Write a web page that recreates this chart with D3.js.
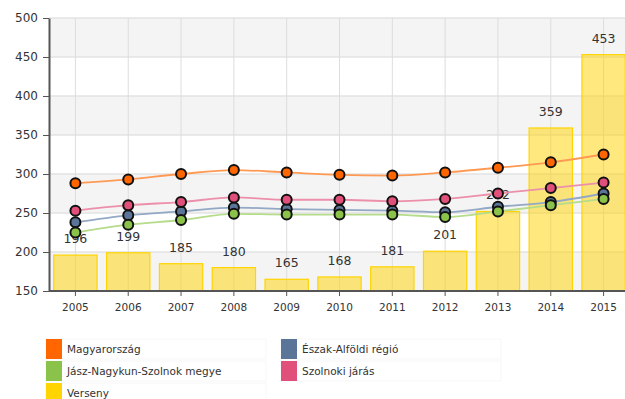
<!DOCTYPE html>
<html>
<head>
<meta charset="utf-8">
<script src="https://cdn.jsdelivr.net/npm/d3@7"></script>
<style>
  html, body { margin: 0; padding: 0; background: #fff; }
  svg { display: block; font-family: "DejaVu Sans", Verdana, sans-serif; }
</style>
</head>
<body>
<svg id="chart" width="625" height="399"></svg>
<script>
// Years on the x axis
const years = ["2005","2006","2007","2008","2009","2010","2011","2012","2013","2014","2015"];

// Bar series
const verseny = [196, 199, 185, 180, 165, 168, 181, 201, 252, 359, 453];

// Line series
const magyarorszag = [288, 293, 300, 305, 302, 299, 298, 302, 308, 315, 325];
const eszakAlfoldi = [238, 247, 252, 257, 255, 254, 253, 251, 258, 264, 275];
const jnszMegye   = [225, 235, 241, 249, 248, 248, 248, 245, 252, 260, 268];
const szolnokiJaras = [253, 260, 264, 270, 267, 267, 265, 268, 275, 282, 289];

const yTicks = [150, 200, 250, 300, 350, 400, 450, 500];

const lineSeries = [
  { name: "Magyarország", values: magyarorszag, color: "#ff6600", line: "#ff9a55" },
  { name: "Észak-Alföldi régió", values: eszakAlfoldi, color: "#5b7599", line: "#93a8c4" },
  { name: "Jász-Nagykun-Szolnok megye", values: jnszMegye, color: "#8bc34a", line: "#b5dc8a" },
  { name: "Szolnoki járás", values: szolnokiJaras, color: "#e0507a", line: "#ec8faa" }
];
const barColor = "#ffd400";

const legendItems = [
  { name: "Magyarország", color: "#ff6600", col: 0, row: 0 },
  { name: "Észak-Alföldi régió", color: "#5b7599", col: 1, row: 0 },
  { name: "Jász-Nagykun-Szolnok megye", color: "#8bc34a", col: 0, row: 1 },
  { name: "Szolnoki járás", color: "#e0507a", col: 1, row: 1 },
  { name: "Verseny", color: barColor, col: 0, row: 2 }
];

const svg = d3.select("#chart");
const plotLeft = 49, plotRight = 630, plotTop = 18, plotBottom = 291;

const x = d3.scaleBand().domain(years).range([plotLeft, plotRight])
  .paddingInner(0.18).paddingOuter(0.09);
const xc = d => x(d) + x.bandwidth() / 2;
const y = d3.scaleLinear().domain([150, 500]).range([plotBottom, plotTop]);

// Alternating background bands
const bands = [];
for (let i = 0; i < yTicks.length - 1; i++) bands.push([yTicks[i], yTicks[i + 1], i]);
svg.append("g").selectAll("rect").data(bands).join("rect")
  .attr("x", plotLeft).attr("width", 625 - plotLeft)
  .attr("y", d => y(d[1])).attr("height", d => y(d[0]) - y(d[1]))
  .attr("fill", d => d[2] % 2 === 0 ? "#f4f4f4" : "#ffffff");

// Gridlines
svg.append("g").selectAll("line").data(yTicks).join("line")
  .attr("x1", plotLeft).attr("x2", 625)
  .attr("y1", d => y(d)).attr("y2", d => y(d))
  .attr("stroke", "#e3e3e3").attr("stroke-width", 1.5);
svg.append("g").selectAll("line").data(years).join("line")
  .attr("x1", d => xc(d)).attr("x2", d => xc(d))
  .attr("y1", plotTop).attr("y2", plotBottom)
  .attr("stroke", "#dddddd").attr("stroke-width", 1);

// Bars
svg.append("g").selectAll("rect").data(years).join("rect")
  .attr("x", d => x(d)).attr("width", x.bandwidth())
  .attr("y", (d, i) => y(verseny[i]))
  .attr("height", (d, i) => y(150) - y(verseny[i]))
  .attr("fill", barColor).attr("fill-opacity", 0.5)
  .attr("stroke", barColor).attr("stroke-width", 1.2);

// Bar value labels
svg.append("g").selectAll("text").data(years).join("text")
  .attr("x", d => xc(d)).attr("y", (d, i) => y(verseny[i]) - 12)
  .attr("text-anchor", "middle")
  .attr("font-size", 12.5).attr("fill", "#333")
  .text((d, i) => verseny[i]);

// Lines and markers
const line = d3.line()
  .x((v, i) => xc(years[i])).y(v => y(v))
  .curve(d3.curveMonotoneX);

lineSeries.forEach(s => {
  svg.append("path").datum(s.values)
    .attr("d", line).attr("fill", "none")
    .attr("stroke", s.line).attr("stroke-width", 1.8);
});
lineSeries.forEach(s => {
  svg.append("g").selectAll("circle").data(s.values).join("circle")
    .attr("cx", (v, i) => xc(years[i])).attr("cy", v => y(v))
    .attr("r", 5).attr("fill", s.color)
    .attr("stroke", "#111").attr("stroke-width", 2);
});

// Axes
const yAxis = svg.append("g").attr("transform", `translate(${plotLeft},0)`)
  .call(d3.axisLeft(y).tickValues(yTicks).tickSize(6).tickPadding(5).tickSizeOuter(0));
yAxis.select(".domain").attr("stroke", "#555").attr("stroke-width", 2);
yAxis.selectAll(".tick line").attr("stroke", "#555");
yAxis.selectAll(".tick text").attr("font-size", 12).attr("fill", "#333")
  .attr("font-family", "DejaVu Sans, sans-serif");

const xAxis = svg.append("g").attr("transform", `translate(0,${plotBottom})`)
  .call(d3.axisBottom(x).tickSize(5).tickPadding(8).tickSizeOuter(0));
xAxis.select(".domain").attr("stroke", "#555").attr("stroke-width", 2)
  .attr("d", `M${plotLeft},0H625`);
xAxis.selectAll(".tick line").attr("stroke", "#555");
xAxis.selectAll(".tick text").attr("font-size", 10.5).attr("fill", "#333")
  .attr("font-family", "DejaVu Sans, sans-serif");

// Legend
const colX = [46, 281], rowY = [339, 361, 383];
const leg = svg.append("g").selectAll("g").data(legendItems).join("g")
  .attr("transform", d => `translate(${colX[d.col]},${rowY[d.row]})`);
leg.append("rect").attr("x", 0).attr("y", 0).attr("width", 220).attr("height", 20)
  .attr("fill", "none").attr("stroke", "#f7f7f7");
leg.append("rect").attr("x", 0).attr("y", 0).attr("width", 16).attr("height", 20)
  .attr("fill", d => d.color);
leg.append("text").attr("x", 21).attr("y", 14)
  .attr("font-size", 10.5).attr("fill", "#333")
  .text(d => d.name);
</script>
</body>
</html>
